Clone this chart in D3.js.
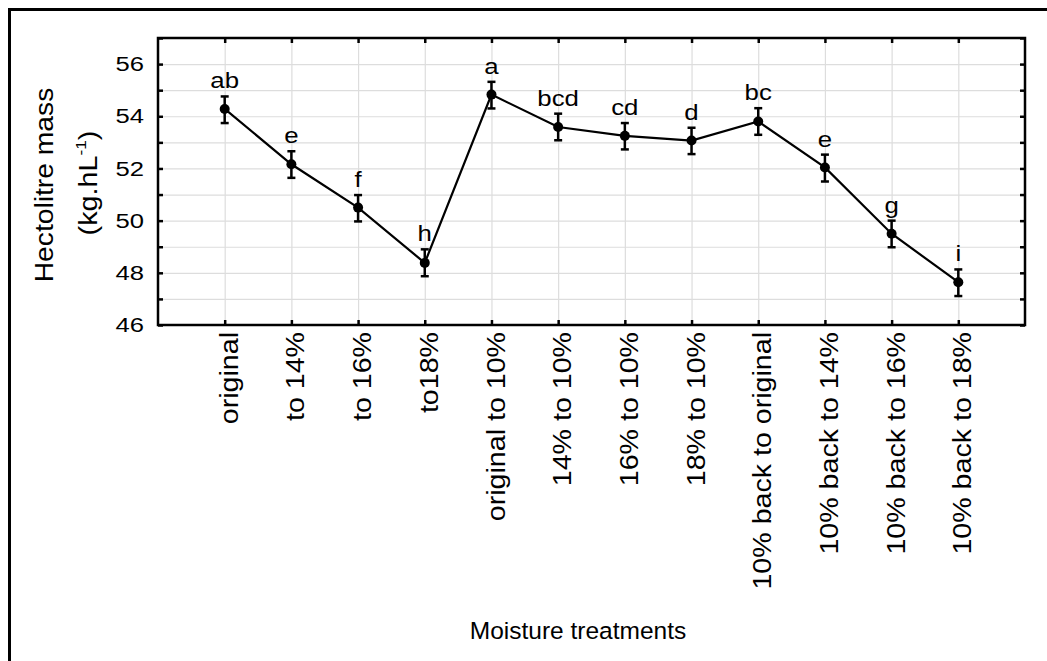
<!DOCTYPE html>
<head>
    <script src="https://d3js.org/d3.v7.min.js" charset="utf-8"></script>
    <style type="text/css">
        body {
            margin: 0;
            background-color: white;
        }

        text {
            font-family: "Liberation Sans", Arial, sans-serif;
            fill: black;
        }
    </style>
</head>

<body>
    <svg id="main"></svg>
    <script>
        // data
        let categories = ["original", "to 14%", "to 16%", "to18%", "original to 10%", "14% to 10%",
            "16% to 10%", "18% to 10%", "10% back to original", "10% back to 14%", "10% back to 16%", "10% back to 18%"]
        let means = [54.28, 52.16, 50.5, 48.38, 54.83, 53.59, 53.25, 53.07, 53.8, 52.04, 49.5, 47.64]
        let errLow = [53.74, 51.64, 49.97, 47.87, 54.3, 53.08, 52.73, 52.55, 53.29, 51.5, 48.98, 47.11]
        let errHigh = [54.76, 52.66, 50.98, 48.9, 55.32, 54.1, 53.74, 53.56, 54.31, 52.53, 50.0, 48.13]
        let letters = ["ab", "e", "f", "h", "a", "bcd", "cd", "d", "bc", "e", "g", "i"]
        let yTicks = [46, 47, 48, 49, 50, 51, 52, 53, 54, 55, 56, 57]

        let width = 1047,
            height = 661

        let svg = d3.select("#main")
            .attr("width", width)
            .attr("height", height)

        let plot = { left: 158, right: 1025, top: 38, bottom: 325 }

        let x = d3.scalePoint()
            .domain(categories)
            .range([plot.left, plot.right])
            .padding(1)

        let y = d3.scaleLinear()
            .domain([46, 57])
            .range([plot.bottom, plot.top])

        // outer frame (right and bottom edges fall outside the picture)
        svg.append("rect")
            .attr("x", 9.5).attr("y", 9.5)
            .attr("width", 1100).attr("height", 700)
            .attr("fill", "none")
            .attr("stroke", "black")
            .attr("stroke-width", 3)

        // grid lines
        svg.append("g")
            .attr("transform", "translate(" + plot.left + ",0)")
            .call(d3.axisLeft(y).tickValues(yTicks).tickSize(-(plot.right - plot.left)).tickFormat(""))
            .call(g => g.select(".domain").remove())
            .selectAll("line").attr("stroke", "#dddddd").attr("stroke-width", 1.2)

        svg.append("g")
            .attr("transform", "translate(0," + plot.bottom + ")")
            .call(d3.axisBottom(x).tickSize(-(plot.bottom - plot.top)).tickFormat(""))
            .call(g => g.select(".domain").remove())
            .selectAll("line").attr("stroke", "#dddddd").attr("stroke-width", 1.2)

        // plot box
        svg.append("rect")
            .attr("x", plot.left).attr("y", plot.top)
            .attr("width", plot.right - plot.left)
            .attr("height", plot.bottom - plot.top)
            .attr("fill", "none")
            .attr("stroke", "black")
            .attr("stroke-width", 2.5)

        // left axis
        let yAxis = svg.append("g")
            .attr("transform", "translate(" + plot.left + ",0)")
            .call(d3.axisLeft(y).tickValues(yTicks).tickSizeInner(-5).tickSizeOuter(0).tickPadding(14)
                .tickFormat(d => d % 2 === 0 ? d : ""))
        yAxis.select(".domain").remove()
        yAxis.selectAll("line").attr("stroke", "black").attr("stroke-width", 2.5)
        yAxis.selectAll("text")
            .attr("font-size", 21)
            .attr("font-family", "Liberation Sans, Arial, sans-serif")
            .attr("x", -14 / 1.22)
            .attr("transform", "scale(1.22,1)")

        // right axis
        let yAxisR = svg.append("g")
            .attr("transform", "translate(" + plot.right + ",0)")
            .call(d3.axisRight(y).tickValues(yTicks).tickSizeInner(-5).tickSizeOuter(0).tickFormat(""))
        yAxisR.select(".domain").remove()
        yAxisR.selectAll("line").attr("stroke", "black").attr("stroke-width", 2.5)

        // top axis
        let xAxisT = svg.append("g")
            .attr("transform", "translate(0," + plot.top + ")")
            .call(d3.axisTop(x).tickSizeInner(-5).tickSizeOuter(0).tickFormat(""))
        xAxisT.select(".domain").remove()
        xAxisT.selectAll("line").attr("stroke", "black").attr("stroke-width", 2.5)

        // bottom axis with rotated labels
        let xAxis = svg.append("g")
            .attr("transform", "translate(0," + plot.bottom + ")")
            .call(d3.axisBottom(x).tickSizeInner(-5).tickSizeOuter(0))
        xAxis.select(".domain").remove()
        xAxis.selectAll("line").attr("stroke", "black").attr("stroke-width", 2.5)
        xAxis.selectAll("text")
            .attr("font-size", 26)
            .attr("font-family", "Liberation Sans, Arial, sans-serif")
            .attr("text-anchor", "end")
            .attr("transform", "rotate(-90) scale(1.1,1)")
            .attr("x", -7 / 1.1)
            .attr("y", 12.6)
            .attr("dy", 0)

        // mean line
        let idx = d3.range(categories.length)
        let lineGen = d3.line()
            .x(i => x(categories[i]))
            .y(i => y(means[i]))

        svg.append("path")
            .datum(idx)
            .attr("d", lineGen)
            .attr("fill", "none")
            .attr("stroke", "black")
            .attr("stroke-width", 2.2)

        // error bars
        let bars = svg.append("g").selectAll("g")
            .data(idx)
            .enter()
            .append("g")
            .attr("stroke", "black")
            .attr("stroke-width", 2.5)

        bars.append("line")
            .attr("x1", i => x(categories[i])).attr("x2", i => x(categories[i]))
            .attr("y1", i => y(errLow[i])).attr("y2", i => y(errHigh[i]))
        bars.append("line")
            .attr("x1", i => x(categories[i]) - 4).attr("x2", i => x(categories[i]) + 4)
            .attr("y1", i => y(errLow[i])).attr("y2", i => y(errLow[i]))
        bars.append("line")
            .attr("x1", i => x(categories[i]) - 4).attr("x2", i => x(categories[i]) + 4)
            .attr("y1", i => y(errHigh[i])).attr("y2", i => y(errHigh[i]))

        // points
        svg.append("g").selectAll("circle")
            .data(idx)
            .enter()
            .append("circle")
            .attr("cx", i => x(categories[i]))
            .attr("cy", i => y(means[i]))
            .attr("r", 5)
            .attr("fill", "black")

        // significance letters
        svg.append("g").selectAll("text")
            .data(idx)
            .enter()
            .append("text")
            .attr("transform", i => "translate(" + x(categories[i]) + "," + (y(errHigh[i]) - 8) + ") scale(1.2,1)")
            .attr("text-anchor", "middle")
            .attr("font-size", 21.5)
            .text(i => letters[i])

        // axis titles
        svg.append("text")
            .attr("transform", "translate(53,185) rotate(-90) scale(1.13,1)")
            .attr("text-anchor", "middle")
            .attr("font-size", 25)
            .text("Hectolitre mass")

        let unit = svg.append("text")
            .attr("transform", "translate(97,183) rotate(-90) scale(1.15,1)")
            .attr("text-anchor", "middle")
            .attr("font-size", 25)
        unit.append("tspan").text("(kg.hL")
        unit.append("tspan").attr("font-size", 15).attr("dy", -11).text("-1")
        unit.append("tspan").attr("dy", 11).text(")")

        svg.append("text")
            .attr("x", 578)
            .attr("y", 639)
            .attr("text-anchor", "middle")
            .attr("font-size", 24.5)
            .text("Moisture treatments")
    </script>
</body>
